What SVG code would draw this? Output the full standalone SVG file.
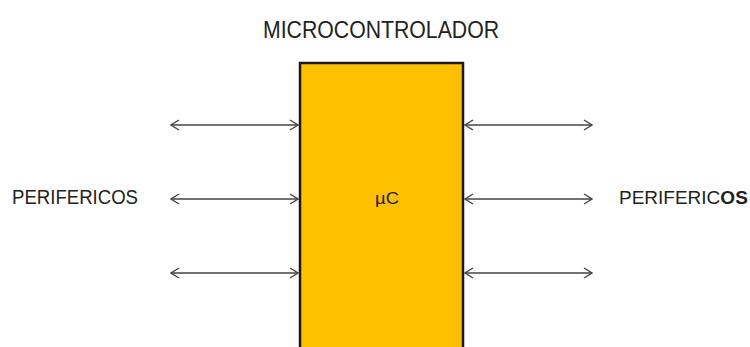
<svg xmlns="http://www.w3.org/2000/svg" width="750" height="347" viewBox="0 0 750 347">
<style>
.t{font-family:"Liberation Sans",Arial,sans-serif;fill:#222;}
.c line{stroke:#444;stroke-width:1.3;fill:none;}
.ah{fill:none;stroke:#444;stroke-width:1.4;}
</style>
<defs>
<marker id="a" viewBox="0 0 10 12" refX="9" refY="6" markerWidth="10" markerHeight="12" markerUnits="userSpaceOnUse" orient="auto-start-reverse">
<path class="ah" d="M1,1 L9,6 L1,11"/>
</marker>
</defs>
<rect width="750" height="347" fill="#fff"/>
<g id="title"><text class="t" x="381" y="38" font-size="23" text-anchor="middle" textLength="236" lengthAdjust="spacingAndGlyphs">MICROCONTROLADOR</text></g>
<g id="uc">
<rect x="300" y="63" width="163" height="290" fill="#FFC000" stroke="#1a1a1a" stroke-width="2.5"/>
<text class="t" x="375" y="204" font-size="17" fill="#3a2a00" textLength="24" lengthAdjust="spacingAndGlyphs">µC</text>
</g>
<g id="perif-left"><text class="t" x="12" y="204" font-size="20" textLength="126" lengthAdjust="spacingAndGlyphs">PERIFERICOS</text></g>
<g id="perif-right">
<text class="t" x="619" y="204" font-size="19">PERIFERIC<tspan font-weight="bold">OS</tspan></text>
</g>
<g id="connectors" class="c">
<line x1="171" y1="125" x2="298" y2="125" marker-start="url(#a)" marker-end="url(#a)"/>
<line x1="171" y1="199" x2="298" y2="199" marker-start="url(#a)" marker-end="url(#a)"/>
<line x1="171" y1="273" x2="298" y2="273" marker-start="url(#a)" marker-end="url(#a)"/>
<line x1="465" y1="125" x2="592" y2="125" marker-start="url(#a)" marker-end="url(#a)"/>
<line x1="465" y1="199" x2="592" y2="199" marker-start="url(#a)" marker-end="url(#a)"/>
<line x1="465" y1="273" x2="592" y2="273" marker-start="url(#a)" marker-end="url(#a)"/>
</g>
</svg>
